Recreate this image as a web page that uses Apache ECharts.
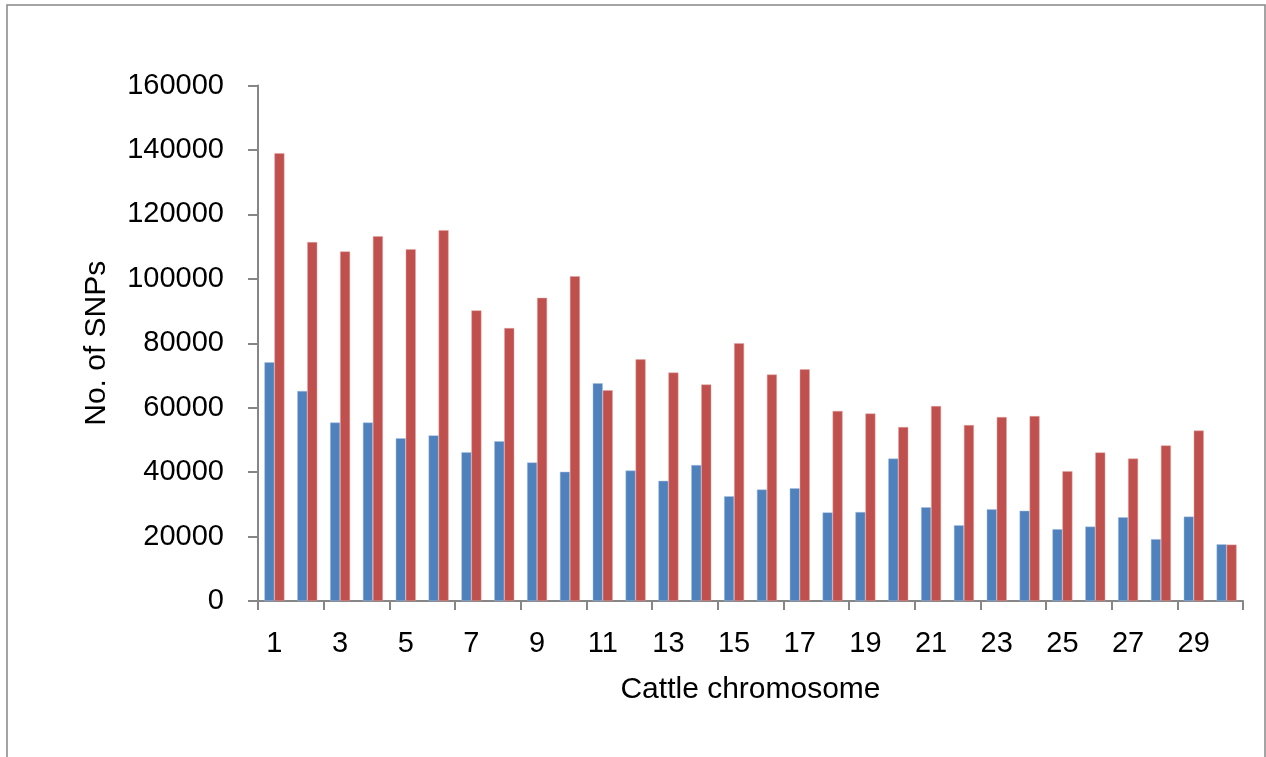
<!DOCTYPE html>
<html>
<head>
<meta charset="utf-8">
<script src="https://cdn.jsdelivr.net/npm/echarts@6/dist/echarts.min.js"></script>
<style>
html, body { margin: 0; padding: 0; background: #fff; }
#main { width: 1266px; height: 757px; }
</style>
</head>
<body>
<div id="main"></div>
<script>
// chromosome numbers 1..30
var chromosomes = ['1','2','3','4','5','6','7','8','9','10','11','12','13','14','15',
	'16','17','18','19','20','21','22','23','24','25','26','27','28','29','30'];
var blueSeries = [74100, 65200, 55400, 55400, 50500, 51400, 46200, 49600, 43000, 40100,
	67600, 40500, 37300, 42200, 32500, 34600, 35000, 27500, 27600, 44200,
	29100, 23500, 28500, 28000, 22300, 23100, 26000, 19200, 26200, 17600];
var redSeries = [139000, 111400, 108500, 113200, 109200, 115100, 90200, 84700, 94100, 100800,
	65400, 75000, 70900, 67200, 80000, 70300, 71900, 59000, 58200, 54000,
	60500, 54600, 57100, 57400, 40300, 46100, 44200, 48300, 52900, 17500];
var yTicks = { min: 0, max: 160000, interval: 20000 };

var chart = echarts.init(document.getElementById('main'));
var axisGray = '#868686';
var font = 'Liberation Sans';

var option = {
	animation: false,
	graphic: [{
		type: 'rect',
		shape: { x: 7, y: 5, width: 1258, height: 800 },
		style: { fill: 'none', stroke: axisGray, lineWidth: 1.5 }
	}],
	grid: { left: 258, right: 23, top: 85.5, bottom: 156, containLabel: false },
	xAxis: {
		type: 'category',
		data: chromosomes,
		name: 'Cattle chromosome',
		nameLocation: 'middle',
		nameGap: 74,
		nameTextStyle: { fontFamily: font, fontSize: 30, color: '#000' },
		axisLine: { lineStyle: { color: axisGray, width: 2 } },
		axisTick: { show: true, length: 9, lineStyle: { color: axisGray, width: 2 } },
		axisLabel: { interval: 1, margin: 28, fontFamily: font, fontSize: 29, color: '#000' },
		splitLine: { show: false }
	},
	yAxis: {
		type: 'value',
		min: yTicks.min,
		max: yTicks.max,
		interval: yTicks.interval,
		name: 'No. of SNPs',
		nameLocation: 'middle',
		nameGap: 146,
		nameTextStyle: { fontFamily: font, fontSize: 30, color: '#000' },
		axisLine: { show: true, lineStyle: { color: axisGray, width: 2 } },
		axisTick: { show: true, length: 10, lineStyle: { color: axisGray, width: 2 } },
		axisLabel: {
			margin: 34, fontFamily: font, fontSize: 29, color: '#000',
			formatter: function (v) { return String(v); }
		},
		splitLine: { show: false }
	},
	series: [{
		name: 'blue',
		type: 'bar',
		data: blueSeries,
		barGap: '0%',
		barWidth: 10,
		itemStyle: { color: '#4F81BD', borderColor: '#A7C0DE', borderWidth: 0.5 }
	}, {
		name: 'red',
		type: 'bar',
		data: redSeries,
		barGap: '0%',
		barWidth: 10,
		itemStyle: { color: '#C0504D', borderColor: '#E0A5A3', borderWidth: 0.5 }
	}]
};
chart.setOption(option);
</script>
</body>
</html>
